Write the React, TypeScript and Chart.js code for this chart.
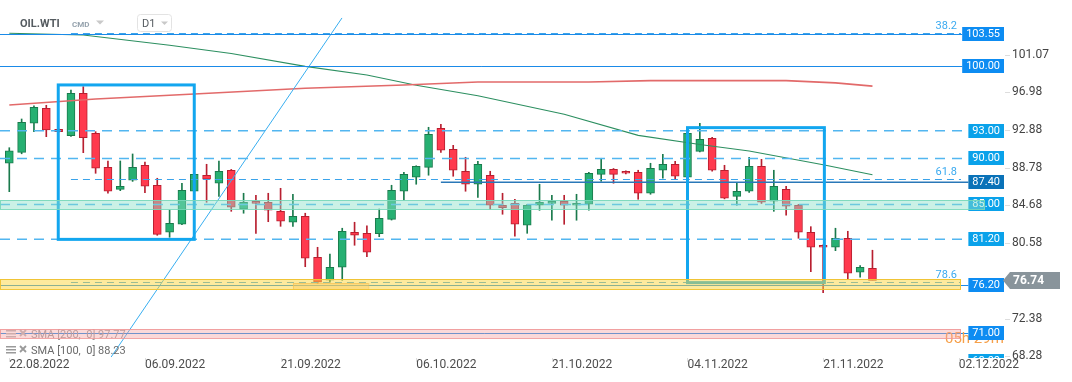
import React, { useEffect, useRef } from 'react';
import { Chart, registerables } from 'chart.js';

Chart.register(...registerables);

// ---- OHLC data (one entry per daily candle) ----
const opens = [89.47, 90.66, 93.82, 95.45, 93.16, 92.47, 97.07, 92.73, 89.03, 86.64, 87.62, 89.25, 87.08, 81.97, 82.84, 86.43, 88.17, 87.30, 88.71, 84.47, 85.34, 85.23, 84.25, 83.06, 83.71, 79.26, 76.76, 78.17, 81.97, 81.86, 81.82, 83.38, 86.43, 87.95, 89.03, 93.27, 90.99, 88.60, 87.19, 88.17, 84.91, 85.12, 82.73, 84.91, 85.12, 85.34, 84.91, 85.02, 88.27, 88.82, 88.60, 88.49, 86.21, 88.71, 89.36, 87.95, 90.77, 92.19, 88.71, 85.88, 86.43, 89.14, 85.34, 86.64, 84.91, 81.97, 80.56, 80.34, 81.32, 77.63, 78.06];
const highs = [91.16, 94.28, 95.70, 95.77, 93.20, 97.43, 97.79, 92.90, 89.72, 89.72, 90.48, 89.61, 87.84, 84.40, 87.30, 88.30, 89.36, 89.72, 88.80, 86.21, 85.99, 86.21, 86.75, 86.10, 84.04, 80.34, 79.61, 82.41, 83.06, 82.66, 84.50, 87.08, 88.49, 89.20, 93.38, 93.71, 91.42, 90.12, 89.69, 88.60, 86.21, 85.56, 85.00, 87.19, 85.99, 85.99, 86.10, 88.49, 90.01, 88.90, 88.65, 88.71, 89.47, 90.45, 89.69, 92.90, 93.82, 92.30, 89.25, 87.40, 90.12, 89.90, 88.71, 86.97, 85.00, 82.58, 80.60, 82.41, 82.08, 78.34, 80.02];
const lows = [86.38, 90.50, 92.90, 92.36, 92.85, 92.40, 90.62, 88.38, 86.21, 86.49, 87.50, 86.27, 81.64, 81.43, 82.80, 86.40, 85.23, 85.88, 84.25, 84.04, 81.86, 83.12, 82.62, 82.62, 78.23, 76.40, 76.54, 76.76, 80.56, 79.32, 81.49, 83.30, 85.48, 87.19, 88.17, 90.66, 88.06, 86.43, 85.77, 84.47, 83.93, 81.54, 81.86, 84.36, 83.28, 82.84, 83.28, 84.36, 87.51, 87.30, 88.30, 85.56, 86.10, 87.84, 87.73, 87.80, 90.70, 88.60, 85.60, 84.91, 86.30, 85.10, 84.25, 83.82, 81.32, 77.69, 75.41, 79.97, 76.93, 77.08, 76.80];
const closes = [90.81, 93.92, 95.55, 93.09, 92.90, 97.07, 92.25, 88.93, 86.43, 86.97, 89.03, 86.97, 81.75, 82.95, 86.54, 88.27, 87.73, 88.60, 84.69, 85.23, 85.12, 84.36, 83.17, 83.71, 79.15, 76.54, 78.17, 82.08, 81.65, 79.80, 83.49, 86.54, 88.27, 89.14, 92.62, 90.88, 88.71, 87.19, 89.36, 84.91, 84.65, 82.84, 84.91, 85.23, 85.34, 84.91, 85.12, 88.38, 88.82, 88.27, 88.38, 86.21, 88.93, 89.36, 88.06, 92.73, 92.08, 88.71, 85.67, 86.43, 89.14, 85.23, 86.97, 84.80, 81.97, 80.34, 80.34, 81.32, 77.52, 78.17, 76.74];

// ---- axes ----
const xTickIndex = [0, 11, 22, 33, 44, 55, 66, 77];
const xTickLabels = ['22.08.2022', '06.09.2022', '21.09.2022', '06.10.2022', '21.10.2022', '04.11.2022', '21.11.2022', '02.12.2022'];
const yTickValues = [101.07, 96.98, 92.88, 88.78, 84.68, 80.58, 72.38, 68.28];
const xRange = [-0.754, 77.18];
const yRange = [68.31, 107.21];

// ---- moving averages (read at candle indices) ----
const sma200Index = [0, 7, 15, 24, 32, 38, 47, 52, 63, 67, 70];
const sma200Values = [95.8, 96.45, 97.0, 97.62, 97.98, 98.3, 98.3, 98.45, 98.45, 98.2, 97.85];
const sma100Index = [0, 6, 13, 18, 24, 29, 33, 38, 45, 51, 56, 60, 66, 70];
const sma100Values = [103.59, 103.41, 102.3, 101.4, 100.0, 99.06, 97.95, 96.8, 94.8, 92.5, 91.5, 90.8, 89.3, 88.23];
const smaLegendNames = ['SMA [200,  0]', 'SMA [100,  0]'];
const smaLegendValues = [97.77, 88.23];

// ---- drawings ----
const solidLevels = [103.55, 100.0, 76.2, 71.0];
const dashedLevels = [93.0, 90.0, 85.0, 81.2];
const resistanceLevel = [87.4];
const resistanceStart = [35];
const hiddenLevel = [68.0];
const fibLevels = [103.6, 87.75, 76.52];
const fibLabels = ['38.2', '61.8', '78.6'];
const fibStart = [5];
const mintZone = [84.54, 85.46];
const yellowZone = [75.78, 76.87];
const pinkZone = [70.52, 71.47];
const orangeZoneIndex = [23.0, 29.1];
const orangeZoneValues = [75.81, 76.46];
const boxStart = [3.97, 55.0];
const boxEnd = [15.0, 66.1];
const boxTop = [97.98, 93.34];
const boxBottom = [81.2, 76.5];
const trendIndex = [8.26, 26.98];
const trendValues = [68.42, 105.26];
const countdownText = ['05h 29m'];
const headerTexts = ['OIL.WTI', 'CMD', 'D1'];

const FONT = 'Roboto, "Noto Sans", sans-serif';

const overlay = {
  id: 'overlay',
  afterDatasetsDraw(chart: any) {
    const { ctx, chartArea: ca, scales } = chart;
    const xs = scales.x;
    const ys = scales.y;
    const X = (i: number) => xs.getPixelForValue(i);
    const Y = (v: number) => ys.getPixelForValue(v);
    const c = (p: number) => Math.round(p) + 0.5;
    const R = ca.right + 43; // right edge of price tags

    ctx.save();
    ctx.beginPath();
    ctx.rect(0, 0, chart.width, ca.bottom);
    ctx.clip();

    const hline = (v: number, x0: number, x1: number, color: string, w: number, dash: number[]) => {
      ctx.save();
      ctx.strokeStyle = color;
      ctx.lineWidth = w;
      ctx.setLineDash(dash);
      ctx.beginPath();
      const y = w % 2 === 1 ? c(Y(v)) : Y(v);
      ctx.moveTo(x0, y);
      ctx.lineTo(x1, y);
      ctx.stroke();
      ctx.restore();
    };

    ctx.font = '11px ' + FONT;
    const tagW = (t: string) => ctx.measureText(t).width + 8;

    // trend line
    ctx.strokeStyle = '#38aef0';
    ctx.lineWidth = 1;
    ctx.beginPath();
    ctx.moveTo(X(trendIndex[0]), Y(trendValues[0]));
    ctx.lineTo(X(trendIndex[1]), Y(trendValues[1]));
    ctx.stroke();

    // fib levels
    fibLevels.forEach((v) => hline(v, X(fibStart[0]), ca.right, '#3aa3ea', 1, [7, 5]));

    // dashed levels
    dashedLevels.forEach((v) => hline(v, ca.left, R - tagW(v.toFixed(2)), '#52b6f0', 1.5, [10, 7]));

    // solid levels
    solidLevels.forEach((v) => hline(v, ca.left, R - tagW(v.toFixed(2)), '#1a8ae8', 1, []));

    // resistance 87.40
    hline(resistanceLevel[0], X(resistanceStart[0]), R - tagW(resistanceLevel[0].toFixed(2)), '#2a78b8', 1.5, []);

    // blue boxes
    ctx.strokeStyle = '#12a6ef';
    ctx.lineWidth = 3;
    boxStart.forEach((s, k) => {
      const x0 = X(s), x1 = X(boxEnd[k]);
      const y0 = Y(boxTop[k]), y1 = Y(boxBottom[k]);
      ctx.strokeRect(x0, y0, x1 - x0, y1 - y0);
    });

    // small orange zone
    {
      const x0 = X(orangeZoneIndex[0]), x1 = X(orangeZoneIndex[1]);
      const y0 = Y(orangeZoneValues[1]), y1 = Y(orangeZoneValues[0]);
      ctx.fillStyle = 'rgba(250,190,130,0.45)';
      ctx.fillRect(x0, y0, x1 - x0, y1 - y0);
      ctx.strokeStyle = 'rgba(240,170,100,0.6)';
      ctx.lineWidth = 1;
      ctx.strokeRect(c(x0), c(y0), x1 - x0, y1 - y0);
    }

    // legend
    const legendRows = [338, 354];
    smaLegendNames.forEach((name, k) => {
      const by = legendRows[k];
      const col = k === 0 ? '#9a9a9a' : '#6a6a6a';
      ctx.fillStyle = k === 0 ? '#b5b5b5' : '#9a9a9a';
      ctx.fillRect(6, by - 8, 10, 1.5);
      ctx.fillRect(6, by - 5, 10, 1.5);
      ctx.fillRect(6, by - 2, 10, 1.5);
      ctx.strokeStyle = k === 0 ? '#b5b5b5' : '#9a9a9a';
      ctx.lineWidth = 1.8;
      ctx.beginPath();
      ctx.moveTo(20, by - 8); ctx.lineTo(26, by - 2);
      ctx.moveTo(26, by - 8); ctx.lineTo(20, by - 2);
      ctx.stroke();
      ctx.fillStyle = col;
      ctx.font = '11px ' + FONT;
      ctx.textAlign = 'left';
      ctx.textBaseline = 'alphabetic';
      ctx.fillText(name + ' ' + smaLegendValues[k].toFixed(2), 31, by);
    });

    // countdown text
    ctx.fillStyle = '#f6a04a';
    ctx.font = '15px ' + FONT;
    ctx.textBaseline = 'alphabetic';
    ctx.fillText(countdownText[0], 945, Y(71.0) + 10);

    // price tags
    const tag = (v: number, bg: string) => {
      const t = v.toFixed(2);
      ctx.font = '11px ' + FONT;
      const w = tagW(t);
      const y = Math.round(Y(v));
      ctx.fillStyle = bg;
      ctx.fillRect(R - w, y - 7, w, 14);
      ctx.fillStyle = '#ffffff';
      ctx.textAlign = 'left';
      ctx.textBaseline = 'middle';
      ctx.fillText(t, R - w + 4, y + 0.5);
    };
    solidLevels.forEach((v) => tag(v, '#0d8cf2'));
    dashedLevels.forEach((v) => tag(v, '#0aa2ea'));
    tag(resistanceLevel[0], '#0a72b8');
    tag(hiddenLevel[0], '#0aa2ea');

    // zones (translucent, on top)
    const zone = (z: number[], x1: number, fill: string, stroke: string) => {
      const y0 = Math.round(Y(z[1])), y1 = Math.round(Y(z[0]));
      ctx.fillStyle = fill;
      ctx.fillRect(ca.left, y0, x1 - ca.left, y1 - y0);
      ctx.strokeStyle = stroke;
      ctx.lineWidth = 1;
      ctx.strokeRect(ca.left + 0.5, y0 + 0.5, x1 - ca.left - 1, y1 - y0);
    };
    zone(mintZone, ca.right + 24, 'rgba(140,225,200,0.45)', 'rgba(120,215,185,0.9)');
    zone(yellowZone, ca.right, 'rgba(252,214,60,0.5)', 'rgba(240,195,50,0.95)');
    zone(pinkZone, ca.right, 'rgba(245,160,160,0.4)', 'rgba(240,150,150,0.85)');

    // fib labels
    ctx.font = '11px ' + FONT;
    ctx.fillStyle = '#3aaaf0';
    ctx.textAlign = 'right';
    ctx.textBaseline = 'alphabetic';
    fibLevels.forEach((v, k) => ctx.fillText(fibLabels[k], ca.right - 4, Y(v) - 4));

    // current price tag
    {
      const last = closes[closes.length - 1];
      const y = Y(last);
      const x0 = ca.right + 42;
      ctx.fillStyle = '#89949b';
      ctx.beginPath();
      ctx.moveTo(x0, y);
      ctx.lineTo(x0 + 7, y - 8.5);
      ctx.lineTo(x0 + 57, y - 8.5);
      ctx.lineTo(x0 + 57, y + 8.5);
      ctx.lineTo(x0 + 7, y + 8.5);
      ctx.closePath();
      ctx.fill();
      ctx.fillStyle = '#ffffff';
      ctx.font = 'bold 12px ' + FONT;
      ctx.textAlign = 'left';
      ctx.textBaseline = 'middle';
      ctx.fillText(last.toFixed(2), x0 + 10, y + 0.5);
    }
    ctx.restore();

    // small tick marks on the axes
    ctx.save();
    ctx.strokeStyle = '#dddddd';
    ctx.lineWidth = 1;
    yTickValues.forEach((v) => {
      const y = c(Y(v) - 2);
      if (y > ca.bottom) return;
      ctx.beginPath();
      ctx.moveTo(ca.right + 44, y);
      ctx.lineTo(ca.right + 49, y);
      ctx.stroke();
    });
    xTickIndex.forEach((i) => {
      const x = c(X(i));
      ctx.beginPath();
      ctx.moveTo(x, ca.bottom);
      ctx.lineTo(x, ca.bottom + 4);
      ctx.stroke();
    });

    // header
    ctx.textAlign = 'left';
    ctx.textBaseline = 'alphabetic';
    ctx.fillStyle = '#555b60';
    ctx.font = 'bold 11px ' + FONT;
    ctx.fillText(headerTexts[0], 20, 27);
    ctx.fillStyle = '#95a2ad';
    ctx.font = 'bold 8px ' + FONT;
    ctx.fillText(headerTexts[1], 72, 27);
    ctx.fillStyle = '#c9c9c9';
    ctx.beginPath();
    ctx.moveTo(96, 20.5); ctx.lineTo(104, 20.5); ctx.lineTo(100, 24.5); ctx.closePath();
    ctx.fill();
    ctx.strokeStyle = '#e3e3e3';
    ctx.beginPath();
    (ctx as any).roundRect(137.5, 14.5, 34, 17, 3);
    ctx.stroke();
    ctx.fillStyle = '#555b60';
    ctx.font = '11px ' + FONT;
    ctx.fillText(headerTexts[2], 142, 27);
    ctx.fillStyle = '#c9c9c9';
    ctx.beginPath();
    ctx.moveTo(161, 21.5); ctx.lineTo(168, 21.5); ctx.lineTo(164.5, 25); ctx.closePath();
    ctx.fill();
    ctx.restore();
  },
};

export default function App() {
  const ref = useRef<HTMLCanvasElement>(null);
  useEffect(() => {
    document.body.style.margin = '0';
    const idx = opens.map((_, i) => i);
    const up = closes.map((cl, i) => cl >= opens[i]);
    const chart = new Chart(ref.current as HTMLCanvasElement, {
      type: 'bar',
      data: {
        datasets: [
          {
            type: 'line',
            label: 'SMA 200',
            data: sma200Index.map((x, k) => ({ x, y: sma200Values[k] })),
            borderColor: '#e26a6a',
            borderWidth: 1.6,
            pointRadius: 0,
            tension: 0,
            order: 0,
          } as any,
          {
            type: 'line',
            label: 'SMA 100',
            data: sma100Index.map((x, k) => ({ x, y: sma100Values[k] })),
            borderColor: '#2c8f60',
            borderWidth: 1.1,
            pointRadius: 0,
            tension: 0,
            order: 0,
          } as any,
          {
            type: 'bar',
            label: 'body',
            data: idx.map((i) => ({ x: i, y: [opens[i], closes[i]] })),
            backgroundColor: up.map((u) => (u ? '#26b072' : '#ff3a4e')),
            borderColor: up.map((u) => (u ? '#1a7a4c' : '#b81f30')),
            borderWidth: 1,
            borderSkipped: false,
            barThickness: 8,
            minBarLength: 2,
            grouped: false,
            order: 1,
          } as any,
          {
            type: 'bar',
            label: 'wick',
            data: idx.map((i) => ({ x: i, y: [lows[i], highs[i]] })),
            backgroundColor: up.map((u) => (u ? '#1a7a4c' : '#b81f30')),
            borderWidth: 0,
            barThickness: 1,
            grouped: false,
            order: 2,
          } as any,
        ],
      },
      options: {
        animation: false,
        responsive: false,
        devicePixelRatio: 1,
        events: [],
        layout: { padding: 0 },
        plugins: { legend: { display: false }, tooltip: { enabled: false } },
        scales: {
          x: {
            type: 'linear',
            min: xRange[0],
            max: xRange[1],
            offset: false,
            grid: { display: false, drawTicks: false },
            border: { display: false },
            afterBuildTicks: (s: any) => {
              s.ticks = xTickIndex.map((v) => ({ value: v }));
            },
            afterFit: (s: any) => {
              s.height = 24;
              s.paddingLeft = 0;
              s.paddingRight = 0;
            },
            ticks: {
              autoSkip: false,
              maxRotation: 0,
              minRotation: 0,
              align: 'start',
              padding: 0,
              color: '#4d4d4d',
              font: { family: FONT, size: 12 },
              callback: (v: any) => {
                const k = xTickIndex.indexOf(Number(v));
                return k >= 0 ? xTickLabels[k] : '';
              },
            },
          },
          y: {
            type: 'linear',
            position: 'right',
            min: yRange[0],
            max: yRange[1],
            beginAtZero: false,
            grid: { display: false, drawTicks: false },
            border: { display: false },
            afterBuildTicks: (s: any) => {
              s.ticks = yTickValues.map((v) => ({ value: v }));
            },
            afterFit: (s: any) => {
              s.width = 111;
              s.paddingTop = 0;
              s.paddingBottom = 0;
            },
            ticks: {
              padding: 51,
              labelOffset: -2,
              color: '#444',
              font: { family: FONT, size: 12 },
              callback: (v: any) => Number(v).toFixed(2),
            },
          },
        },
      } as any,
      plugins: [overlay],
    });
    return () => chart.destroy();
  }, []);
  return (
    <div style={{ width: 1072, height: 382, background: '#fff' }}>
      <canvas ref={ref} width={1072} height={382} style={{ display: 'block', width: 1072, height: 382 }} />
    </div>
  );
}
